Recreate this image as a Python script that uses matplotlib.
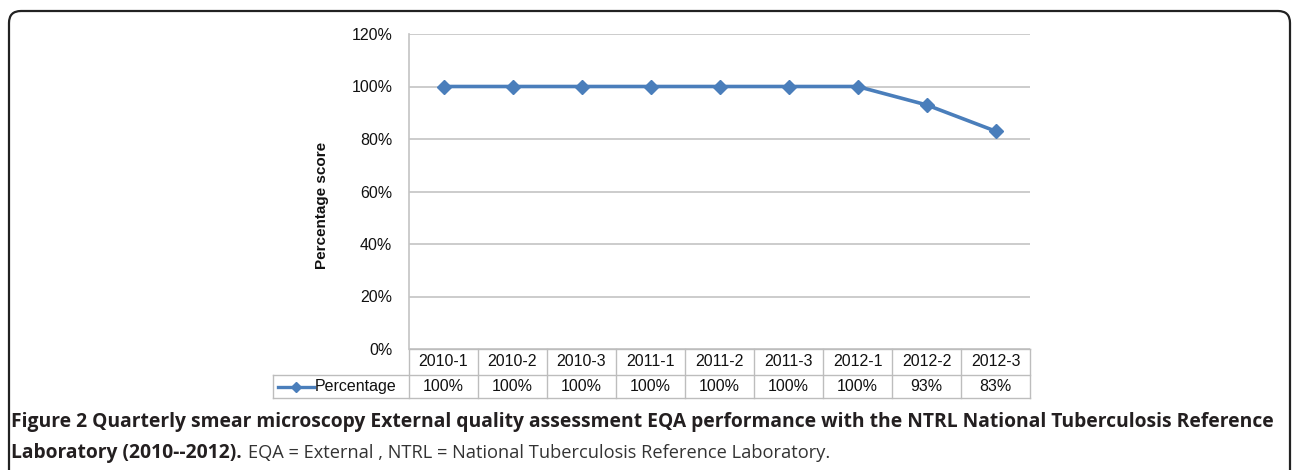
import matplotlib
matplotlib.use("Agg")
import matplotlib.pyplot as plt
from matplotlib.patches import FancyBboxPatch
from matplotlib.lines import Line2D
import matplotlib.transforms as mtrans
from matplotlib.ticker import FuncFormatter

quarters = ["2010-1", "2010-2", "2010-3", "2011-1", "2011-2", "2011-3", "2012-1", "2012-2", "2012-3"]
percentage = [100, 100, 100, 100, 100, 100, 100, 93, 83]
series_name = "Percentage"
y_ticks = [0, 20, 40, 60, 80, 100, 120]
y_label = "Percentage score"
caption_bold_1 = "Figure 2 Quarterly smear microscopy External quality assessment EQA performance with the NTRL National Tuberculosis Reference"
caption_bold_2 = "Laboratory (2010--2012)."
caption_regular = "EQA = External , NTRL = National Tuberculosis Reference Laboratory."

W, H = 1292, 470
fig = plt.figure(figsize=(W / 100, H / 100), dpi=100)
fig.patch.set_facecolor("white")

blue = "#4a7ebb"
grid_c = "#c4c4c4"
font_chart = "Liberation Sans"
tfs = 11.5

L, R, T, B = 409, 1030, 34, 349
ax = fig.add_axes([L / W, 1 - B / H, (R - L) / W, (B - T) / H])
x = list(range(len(quarters)))
ax.plot(x, percentage, color=blue, lw=2.6, marker="D", ms=7, mfc=blue, mec=blue, zorder=3)
ax.set_xlim(-0.5, len(quarters) - 0.5)
ax.set_ylim(0, 120)
ax.set_yticks(y_ticks)
ax.yaxis.set_major_formatter(FuncFormatter(lambda v, p: f"{v:.0f}%"))
ax.grid(axis="y", color=grid_c, lw=1.2)
ax.set_axisbelow(True)
for s in ["top", "right", "bottom"]:
    ax.spines[s].set_visible(False)
ax.spines["left"].set_color(grid_c)
ax.spines["left"].set_linewidth(1.2)
ax.tick_params(axis="y", length=0, pad=12, labelsize=tfs, labelfontfamily=font_chart,
               labelcolor="#111111")
ax.tick_params(axis="x", bottom=False, labelbottom=False)
ax.text((322 - L) / (R - L), (B - 205) / (B - T), y_label, transform=ax.transAxes,
        rotation=90, ha="center", va="center", fontsize=11, fontweight="bold",
        family=font_chart, color="#111111")

# data table below
trans = mtrans.blended_transform_factory(ax.transData, ax.transAxes)
plot_h = B - T
r0, r1, r2 = 0, -(375 - B) / plot_h, -(398 - B) / plot_h
px = (R - L) / len(quarters)
label_left = -0.5 - (L - 273) / px
xr = len(quarters) - 0.5
tc = "#bdbdbd"
lines = [
    ([-0.5, xr], [r0, r0]),
    ([label_left, xr], [r1, r1]),
    ([label_left, xr], [r2, r2]),
    ([label_left, label_left], [r1, r2]),
]
for i in range(len(quarters) + 1):
    xx = i - 0.5
    lines.append(([xx, xx], [r0, r2]))
for xs, ys in lines:
    ax.add_line(Line2D(xs, ys, transform=trans, color=tc, lw=1.0, clip_on=False))
for i, (q, v) in enumerate(zip(quarters, percentage)):
    ax.text(i, (r0 + r1) / 2, q, transform=trans, ha="center", va="center",
            fontsize=tfs, family=font_chart, color="#111111")
    ax.text(i, (r1 + r2) / 2, f"{v}%", transform=trans, ha="center", va="center",
            fontsize=tfs, family=font_chart, color="#111111")
# legend key
kx0 = label_left + 5 / px
kx1 = label_left + 41 / px
ym = (r1 + r2) / 2
ax.add_line(Line2D([kx0, kx1], [ym, ym], transform=trans, color=blue, lw=2.4, clip_on=False))
ax.add_line(Line2D([(kx0 + kx1) / 2], [ym], transform=trans, color=blue, marker="D", ms=5.5,
                   clip_on=False))
ax.text(kx1 + 1 / px, ym, series_name, transform=trans, ha="left", va="center",
        fontsize=tfs, family=font_chart, color="#111111")

# rounded frame
frame = FancyBboxPatch((9, -20), 1290 - 9, (H - 11) + 20, boxstyle="round,pad=0,rounding_size=12",
                       transform=None, fill=False, ec="#222222", lw=1.6)
fig.add_artist(frame)

# caption
cap_font = "Open Sans"
cap_col = "#231f20"
t1 = fig.text(11 / W, 1 - 422 / H, caption_bold_1, ha="left", va="center",
              fontsize=14, fontweight="bold", family=cap_font, color=cap_col)
fig.canvas.draw()
w = t1.get_window_extent(fig.canvas.get_renderer()).width
fs = 14 * (1264 / w)
t1.set_fontsize(fs)
t2 = fig.text(11 / W, 1 - 453 / H, caption_bold_2, ha="left", va="center",
              fontsize=fs, fontweight="bold", family=cap_font, color=cap_col)
fig.canvas.draw()
bb = t2.get_window_extent(fig.canvas.get_renderer())
fig.text((bb.x1 + 6) / W, 1 - 453 / H, caption_regular, ha="left", va="center",
         fontsize=fs * 0.95, family=cap_font, color="#333333")

fig.savefig("out.png", dpi=100, facecolor="white")
